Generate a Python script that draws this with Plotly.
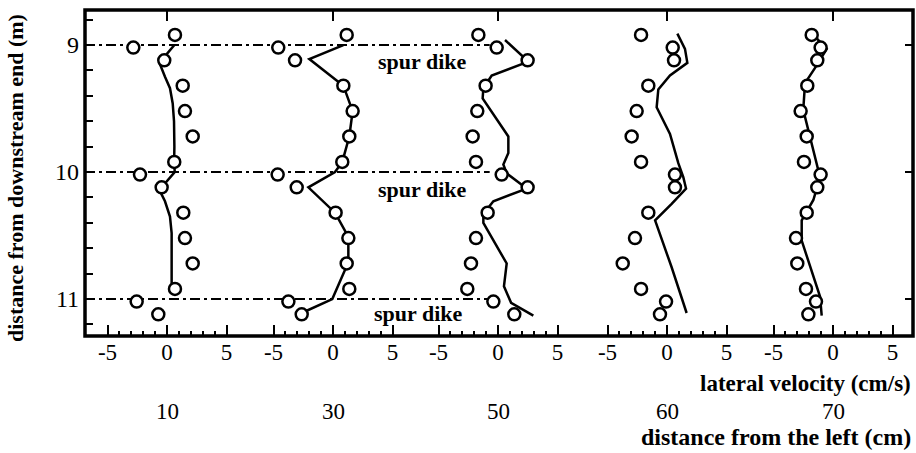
import plotly.graph_objects as go

# ---------------- data ----------------
panel_positions = [10, 30, 50, 60, 70]          # distance from the left (cm)
dike_y = [9, 10, 11]                            # spur dike positions (m)
dike_tip_x = -0.7                               # dike tip, in the 50 cm panel's velocity units

meas_y = [8.92, 9.02, 9.12, 9.32, 9.52, 9.72, 9.92, 10.02, 10.12, 10.32, 10.52, 10.72, 10.92, 11.02, 11.12]

meas_10 = [0.67, -2.83, -0.23, 1.32, 1.51, 2.16, 0.61, -2.27, -0.45, 1.37, 1.51, 2.16, 0.67, -2.55, -0.73]
meas_30 = [1.15, -4.60, -3.19, 0.87, 1.65, 1.37, 0.78, -4.65, -3.05, 0.22, 1.29, 1.15, 1.37, -3.75, -2.63]
meas_50 = [-1.65, -0.11, 2.49, -1.04, -1.74, -2.13, -1.85, 0.31, 2.49, -0.87, -1.85, -2.27, -2.58, -0.39, 1.37]
meas_60 = [-2.18, 0.48, 0.59, -1.57, -2.55, -2.97, -2.18, 0.67, 0.67, -1.57, -2.69, -3.72, -2.18, -0.08, -0.59]
meas_70 = [-1.79, -1.04, -1.32, -2.16, -2.72, -2.21, -2.44, -1.04, -1.32, -2.21, -3.11, -3.00, -2.27, -1.43, -2.07]

calc_10_y = [9.0, 9.14, 9.25, 9.34, 9.46, 9.6, 9.8, 9.92, 10.0, 10.14, 10.23, 10.35, 10.48, 10.72, 10.88]
calc_10_x = [0.62, -0.64, -0.17, 0.25, 0.48, 0.59, 0.62, 0.60, 0.65, -0.64, -0.17, 0.25, 0.39, 0.39, 0.39]

calc_30_y = [9.0, 9.11, 9.32, 9.52, 9.72, 9.92, 10.0, 10.12, 10.32, 10.51, 10.71, 11.0, 11.11]
calc_30_x = [0.87, -1.99, 0.87, 1.65, 1.37, 0.78, 0.17, -2.07, 0.17, 1.29, 1.29, -0.06, -2.63]

calc_50_y = [8.96, 9.13, 9.24, 9.34, 9.42, 9.72, 9.85, 9.94, 10.01, 10.13, 10.23, 10.33, 10.40, 10.72, 10.90, 11.03, 11.13]
calc_50_x = [0.59, 2.55, -0.53, -1.23, -1.29, 0.87, 0.87, 0.45, 0.73, 2.41, -0.39, -1.23, -1.23, 0.73, 0.50, 1.10, 2.97]

calc_60_y = [8.91, 9.03, 9.14, 9.24, 9.35, 9.49, 9.70, 9.93, 10.04, 10.13, 10.25, 10.38, 10.75, 11.11]
calc_60_x = [0.87, 1.51, 1.71, 0.25, -0.73, -0.87, 0.25, 0.95, 1.37, 1.60, 0.39, -1.00, 0.39, 1.65]

calc_70_y = [8.92, 9.03, 9.16, 9.30, 9.51, 10.04, 10.22, 10.38, 10.54, 10.98, 11.13]
calc_70_x = [-1.65, -0.53, -1.37, -2.35, -2.50, -1.09, -1.65, -2.63, -2.63, -1.09, -0.95]

x_ticks = [-5, 0, 5]
x_minor = [-5, -4, -3, -2, -1, 0, 1, 2, 3, 4, 5]
y_ticks = [9, 10, 11]
y_minor = [8.8, 9.0, 9.2, 9.4, 9.6, 9.8, 10.0, 10.2, 10.4, 10.6, 10.8, 11.0, 11.2]

measured = [meas_10, meas_30, meas_50, meas_60, meas_70]
calc = [(calc_10_y, calc_10_x), (calc_30_y, calc_30_x), (calc_50_y, calc_50_x),
        (calc_60_y, calc_60_x), (calc_70_y, calc_70_x)]

# ---------------- layout geometry ----------------
W, H = 916, 453
ML, MR, MT, MB = 85, 3, 10, 117
PW = W - ML - MR
PH = H - MT - MB
bounds_px = [85, 250, 416, 582, 750, 913]     # panel boundaries (px)
zeros_px = [167, 333, 498, 667, 833]           # where 0 cm/s sits in each panel
scale = 11.9                                   # px per cm/s
y_range = [11.291, 8.724]

FONT = "Liberation Serif"

fig = go.Figure()

for i in range(5):
    ax = "" if i == 0 else str(i + 1)
    cy, cx = calc[i]
    fig.add_trace(go.Scatter(x=cx, y=cy, mode="lines", xaxis="x" + ax, yaxis="y",
                             line=dict(color="black", width=2.5), showlegend=False,
                             hoverinfo="skip"))
    fig.add_trace(go.Scatter(x=measured[i], y=meas_y, mode="markers", xaxis="x" + ax, yaxis="y",
                             marker=dict(symbol="circle", size=12, color="white",
                                         line=dict(color="black", width=2.5)),
                             showlegend=False, hoverinfo="skip"))

# dummy for right-side y ticks
fig.add_trace(go.Scatter(x=[None], y=[None], xaxis="x5", yaxis="y2", showlegend=False))

layout = dict(
    width=W, height=H,
    margin=dict(l=ML, r=MR, t=MT, b=MB),
    paper_bgcolor="white", plot_bgcolor="white",
    font=dict(family=FONT, color="black"),
    showlegend=False,
)

shapes = []
annotations = []
x_domains = []
x_ranges = []
for i in range(5):
    key = "xaxis" if i == 0 else "xaxis%d" % (i + 1)
    d0 = (bounds_px[i] - ML) / PW
    d1 = (bounds_px[i + 1] - ML) / PW
    r0 = (bounds_px[i] - zeros_px[i]) / scale
    r1 = (bounds_px[i + 1] - zeros_px[i]) / scale
    x_domains.append((d0, d1))
    x_ranges.append((r0, r1))
    layout[key] = dict(
        domain=[d0, d1], range=[r0, r1], anchor="y",
        showgrid=False, zeroline=False, showline=False,
        tickmode="array", tickvals=x_ticks, ticktext=[str(v) for v in x_ticks],
        ticks="inside", ticklen=11, tickwidth=2, tickcolor="black",
        tickfont=dict(family=FONT, size=23, color="black"),
        minor=dict(tickmode="array", tickvals=x_minor, ticks="inside",
                   ticklen=5, tickwidth=2, tickcolor="black", showgrid=False),
        fixedrange=True,
    )
    xr = "x" if i == 0 else "x%d" % (i + 1)
    # top tick at zero
    shapes.append(dict(type="line", xref=xr, yref="paper", x0=0, x1=0,
                       y0=1, y1=1 - 11 / PH, line=dict(color="black", width=2)))
    # panel label
    annotations.append(dict(xref=xr, yref="paper", x=0, y=-(411 - (MT + PH)) / PH,
                            text=str(panel_positions[i]), showarrow=False,
                            xanchor="center", yanchor="middle",
                            font=dict(family=FONT, size=23, color="black")))

layout["yaxis"] = dict(
    domain=[0, 1], range=y_range, anchor="x",
    showgrid=False, zeroline=False, showline=False,
    tickmode="array", tickvals=y_ticks, showticklabels=False,
    ticks="inside", ticklen=8, tickwidth=2, tickcolor="black",
    minor=dict(tickmode="array", tickvals=y_minor, ticks="inside",
               ticklen=8, tickwidth=2, tickcolor="black", showgrid=False),
    fixedrange=True,
)
layout["yaxis2"] = dict(
    overlaying="y", side="right", anchor="x5", range=y_range,
    showgrid=False, zeroline=False, showline=False,
    tickmode="array", tickvals=y_ticks, showticklabels=False,
    ticks="inside", ticklen=8, tickwidth=2, tickcolor="black", fixedrange=True,
)

# y tick labels placed close to the frame
for yv in y_ticks:
    annotations.append(dict(xref="paper", yref="y", x=0, y=yv, xshift=-4,
                            text=str(yv), showarrow=False, xanchor="right", yanchor="middle",
                            font=dict(family=FONT, size=24, color="black")))

# dash-dot spur dike lines from the left wall to the dike tip
d0, d1 = x_domains[2]
r0, r1 = x_ranges[2]
tip_paper = d0 + (dike_tip_x - r0) / (r1 - r0) * (d1 - d0)
for yv in dike_y:
    shapes.append(dict(type="line", xref="paper", yref="y", x0=0, x1=tip_paper,
                       y0=yv, y1=yv, layer="below",
                       line=dict(color="black", width=2, dash="10px,4px,3px,4px")))

# "spur dike" labels
label_offsets = [0.13, 0.14, 0.11]
label_x = [-6.4, -6.4, -6.7]
for yv, off, lx in zip(dike_y, label_offsets, label_x):
    annotations.append(dict(xref="x3", yref="y", x=lx, y=yv + off, text="<b>spur dike</b>",
                            showarrow=False, xanchor="center", yanchor="middle",
                            font=dict(family=FONT, size=22, color="black")))

# frame
shapes.append(dict(type="rect", xref="paper", yref="paper", x0=0, x1=1, y0=0, y1=1,
                   line=dict(color="black", width=3.5)))

# axis titles
annotations.append(dict(xref="paper", yref="paper", x=1, y=-(383 - (MT + PH)) / PH,
                        text="<b>lateral velocity (cm/s)</b>", showarrow=False,
                        xanchor="right", yanchor="middle",
                        font=dict(family=FONT, size=23, color="black")))
annotations.append(dict(xref="paper", yref="paper", x=1, y=-(437 - (MT + PH)) / PH,
                        text="<b>distance from the left (cm)</b>", showarrow=False,
                        xanchor="right", yanchor="middle",
                        font=dict(family=FONT, size=24, color="black")))
annotations.append(dict(xref="paper", yref="paper", x=(15 - ML) / PW, y=(MT + PH - 178) / PH,
                        text="<b>distance from downstream end (m)</b>", showarrow=False,
                        textangle=-90, xanchor="center", yanchor="middle",
                        font=dict(family=FONT, size=22, color="black")))

layout["shapes"] = shapes
layout["annotations"] = annotations
fig.update_layout(**layout)

fig.write_html("out.html")
